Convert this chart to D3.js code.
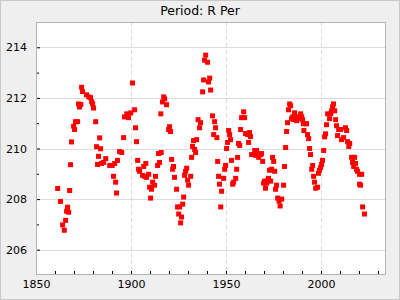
<!DOCTYPE html>
<html>
<head>
<meta charset="utf-8">
<script src="https://cdn.jsdelivr.net/npm/d3@7"></script>
<style>
body { margin: 0; background: #fff; }
#idChart { width: 400px; height: 300px; }
text { font-family: "DejaVu Sans", sans-serif; }
</style>
</head>
<body>
<div id="idChart"></div>
<script>
var gsTitle = "Period: R Per";

var gaiYear = [
    1861.4, 1862.9, 1864.0, 1864.9, 1865.6, 1866.1, 1866.6, 1867.2, 1867.7, 1868.2,
    1868.7, 1869.8, 1870.3, 1870.8, 1871.9, 1872.4, 1872.9, 1873.6, 1874.0, 1874.5,
    1876.6, 1877.8, 1878.7, 1879.3, 1879.8, 1880.3, 1881.4, 1881.9, 1882.4, 1882.9,
    1883.5, 1884.0, 1884.5, 1885.6, 1886.7, 1888.8, 1890.1, 1890.8, 1891.4, 1891.9,
    1892.4, 1892.9, 1894.0, 1895.1, 1896.1, 1896.6, 1897.8, 1898.7, 1899.9, 1900.8,
    1901.9, 1902.4, 1902.9, 1903.5, 1904.0, 1904.5, 1906.1, 1906.7, 1907.2, 1907.8,
    1908.2, 1909.3, 1909.8, 1910.3, 1910.8, 1911.4, 1912.4, 1912.9, 1914.0, 1914.5,
    1915.0, 1915.7, 1915.9, 1916.6, 1917.2, 1917.7, 1918.7, 1919.8, 1920.3, 1920.8,
    1921.4, 1921.9, 1922.4, 1922.9, 1924.0, 1924.5, 1925.1, 1925.6, 1926.1, 1926.6,
    1927.2, 1927.7, 1928.2, 1928.7, 1929.3, 1929.8, 1930.3, 1931.4, 1931.9, 1932.4,
    1932.9, 1933.5, 1934.0, 1934.5, 1935.3, 1936.1, 1936.6, 1937.7, 1938.2, 1938.7,
    1939.3, 1940.3, 1940.8, 1941.4, 1941.9, 1942.9, 1943.5, 1944.0, 1944.5, 1945.2,
    1945.6, 1946.1, 1946.6, 1947.2, 1947.7, 1948.7, 1949.3, 1949.8, 1950.3, 1950.8,
    1951.4, 1951.9, 1952.4, 1952.9, 1953.5, 1954.0, 1955.1, 1955.6, 1956.1, 1956.6,
    1957.2, 1957.7, 1958.2, 1959.3, 1959.8, 1960.3, 1961.4, 1961.9, 1962.4, 1962.9,
    1963.5, 1965.1, 1965.6, 1966.1, 1967.2, 1968.2, 1968.7, 1969.3, 1969.8, 1970.3,
    1970.8, 1971.4, 1971.9, 1972.4, 1972.9, 1973.5, 1974.0, 1974.5, 1975.1, 1975.6,
    1976.1, 1976.6, 1977.2, 1977.9, 1978.5, 1979.3, 1980.3, 1980.8, 1981.4, 1981.9,
    1982.4, 1982.9, 1983.5, 1984.0, 1984.5, 1985.1, 1985.6, 1986.1, 1986.6, 1987.2,
    1988.2, 1988.7, 1989.3, 1989.8, 1990.3, 1990.7, 1991.0, 1991.9, 1992.4, 1992.9,
    1993.5, 1994.0, 1994.5, 1995.1, 1995.6, 1996.1, 1996.6, 1997.2, 1998.2, 1998.7,
    1999.2, 1999.8, 2000.3, 2000.8, 2001.4, 2001.9, 2002.4, 2002.9, 2003.5, 2004.5,
    2005.1, 2005.6, 2006.1, 2006.6, 2007.2, 2007.7, 2008.2, 2008.7, 2009.3, 2010.3,
    2010.8, 2011.9, 2012.9, 2013.5, 2014.0, 2014.6, 2015.1, 2016.1, 2016.6, 2017.2,
    2017.7, 2018.2, 2018.7, 2019.2, 2020.3, 2020.3, 2020.8, 2021.4, 2021.9, 2022.9
];

var gaiPeriod = [
    208.42, 207.91, 206.98, 206.77, 207.16, 207.52, 207.68, 207.48, 208.34, 209.36,
    210.26, 210.88, 210.75, 211.06, 211.06, 211.76, 211.64, 211.74, 212.42, 212.25,
    212.12, 212.04, 212.01, 211.85, 211.76, 211.60, 211.06, 210.07, 209.37, 209.69,
    210.42, 209.99, 209.41, 209.45, 209.60, 209.33, 209.33, 208.90, 209.41, 208.67,
    208.24, 209.53, 209.88, 209.84, 210.43, 211.25, 211.37, 211.22, 211.41, 212.59,
    211.53, 210.82, 210.27, 209.53, 209.18, 209.10, 208.94, 209.29, 208.90, 209.41,
    208.86, 208.98, 208.47, 208.04, 208.39, 208.67, 208.55, 208.90, 209.33, 209.80,
    209.45, 211.37, 209.84, 211.84, 212.04, 211.96, 211.73, 210.75, 210.86, 210.67,
    209.57, 209.18, 209.29, 208.86, 208.39, 207.69, 207.41, 207.69, 207.06, 207.29,
    207.80, 208.08, 208.94, 209.10, 209.22, 208.75, 208.55, 208.90, 209.65, 210.08,
    210.31, 209.96, 209.84, 210.35, 211.14, 210.82, 211.02, 212.24, 212.71, 213.49,
    213.69, 213.41, 212.63, 212.78, 212.31, 211.29, 210.55, 211.06, 210.82, 210.43,
    209.49, 208.90, 208.59, 207.69, 208.31, 208.82, 209.18, 209.33, 210.00, 210.24,
    210.71, 210.55, 210.35, 209.53, 208.59, 208.67, 208.82, 209.18, 209.65, 210.20,
    210.12, 210.75, 211.22, 211.45, 211.22, 210.59, 210.55, 210.24, 210.63, 210.47,
    209.76, 209.92, 209.73, 209.92, 209.65, 209.76, 209.80, 209.49, 208.63, 208.71,
    208.43, 208.63, 208.75, 208.82, 209.14, 208.71, 209.18, 209.65, 209.49, 209.10,
    208.39, 208.55, 208.04, 207.92, 207.73, 208.00, 208.55, 209.29, 210.04, 210.67,
    211.02, 211.53, 211.76, 211.69, 211.18, 211.25, 211.14, 211.41, 211.22, 211.10,
    211.25, 211.18, 211.37, 211.25, 211.14, 210.98, 210.71, 210.98, 210.98, 210.55,
    210.39, 210.00, 209.76, 209.18, 209.33, 208.90, 208.67, 208.43, 208.47, 209.02,
    209.14, 209.25, 209.37, 209.53, 209.92, 210.46, 210.58, 210.94, 211.37, 211.18,
    211.37, 211.49, 211.65, 211.76, 211.49, 211.14, 210.90, 210.51, 210.75, 210.75,
    210.35, 210.43, 210.82, 210.71, 210.27, 210.08, 210.20, 209.65, 209.45, 209.29,
    209.65, 209.41, 209.18, 209.10, 208.98, 208.59, 208.55, 208.98, 207.69, 207.41
];

var gaiXMajor = [1850, 1900, 1950, 2000];
var gaiXMinor = [1860, 1870, 1880, 1890, 1910, 1920, 1930, 1940, 1960, 1970, 1980, 1990, 2010, 2020, 2030];
var gaiYMajor = [206, 208, 210, 212, 214];
var gaiYMinor = [207, 209, 211, 213];

function drawChart()
{
    var iWidth = 400;
    var iHeight = 300;
    var margin = {top: 22, right: 14, bottom: 25, left: 36};

    var rows = gaiYear.map(function(d, i) {
        return {year: d, value: gaiPeriod[i]};
    });

    var x = d3.scaleLinear()
                .domain([1850, 1850 + 350 / 1.9])
                .range([margin.left, iWidth - margin.right]);

    var y = d3.scaleLinear()
                .domain([205, 215])
                .range([iHeight - margin.bottom, margin.top]);

    var svg = d3.select("#idChart").append("svg")
        .attr("width", iWidth)
        .attr("height", iHeight);

    // grey frame round the whole picture
    svg.append("rect")
        .attr("x", 0.5).attr("y", 0.5)
        .attr("width", iWidth - 1).attr("height", iHeight - 1)
        .attr("fill", "#efefef")
        .attr("stroke", "#c8c8c8");

    svg.append("rect")
        .attr("x", margin.left).attr("y", margin.top)
        .attr("width", iWidth - margin.left - margin.right)
        .attr("height", iHeight - margin.top - margin.bottom)
        .attr("fill", "#ffffff");

    // grid
    svg.append("g").selectAll("line")
        .data(gaiYMajor)
        .enter().append("line")
        .attr("x1", margin.left).attr("x2", iWidth - margin.right)
        .attr("y1", function(d) { return Math.round(y(d)) + 0.5; })
        .attr("y2", function(d) { return Math.round(y(d)) + 0.5; })
        .attr("stroke", "#dcdcdc");

    svg.append("g").selectAll("line")
        .data(gaiXMajor.slice(1))
        .enter().append("line")
        .attr("x1", function(d) { return Math.round(x(d)) + 0.5; })
        .attr("x2", function(d) { return Math.round(x(d)) + 0.5; })
        .attr("y1", margin.top).attr("y2", iHeight - margin.bottom)
        .attr("stroke", "#dcdcdc")
        .attr("stroke-dasharray", "4,3");

    // axes, ticks point into the plot
    var xAxis = d3.axisBottom(x).tickValues(gaiXMajor).tickFormat(d3.format("d"))
                    .tickSizeInner(-4).tickSizeOuter(0).tickPadding(5);
    var xMinor = d3.axisBottom(x).tickValues(gaiXMinor).tickFormat("")
                    .tickSizeInner(-4).tickSizeOuter(0);
    var yAxis = d3.axisLeft(y).tickValues(gaiYMajor).tickFormat(d3.format("d"))
                    .tickSizeInner(-4).tickSizeOuter(0).tickPadding(9);
    var yMinor = d3.axisLeft(y).tickValues(gaiYMinor).tickFormat("")
                    .tickSizeInner(-3).tickSizeOuter(0);

    var gx = svg.append("g")
        .attr("transform", "translate(0," + (iHeight - margin.bottom) + ")");
    gx.call(xAxis);
    gx.append("g").call(xMinor);

    var gy = svg.append("g")
        .attr("transform", "translate(" + margin.left + ",0)");
    gy.call(yAxis);
    gy.append("g").call(yMinor);

    svg.selectAll(".domain").remove();
    svg.selectAll(".tick line").attr("stroke", "#000");
    svg.selectAll(".tick text")
        .attr("fill", "#000")
        .style("font-size", "11px")
        .style("font-family", "'DejaVu Sans', sans-serif");

    // plot frame
    svg.append("rect")
        .attr("x", margin.left + 0.5).attr("y", margin.top + 0.5)
        .attr("width", iWidth - margin.left - margin.right - 1)
        .attr("height", iHeight - margin.top - margin.bottom - 1)
        .attr("fill", "none")
        .attr("stroke", "#b4b4b4");

    // markers
    var iSize = 5;
    svg.append("g").selectAll("rect")
        .data(rows)
        .enter().append("rect")
        .attr("x", function(d) { return x(d.year) - iSize / 2; })
        .attr("y", function(d) { return y(d.value) - iSize / 2; })
        .attr("width", iSize)
        .attr("height", iSize)
        .attr("fill", "#ff0000");

    svg.append("text")
        .attr("x", 200)
        .attr("y", 15)
        .style("text-anchor", "middle")
        .style("font-size", "12.5px")
        .attr("fill", "#000")
        .text(gsTitle);
}

drawChart();
</script>
</body>
</html>
